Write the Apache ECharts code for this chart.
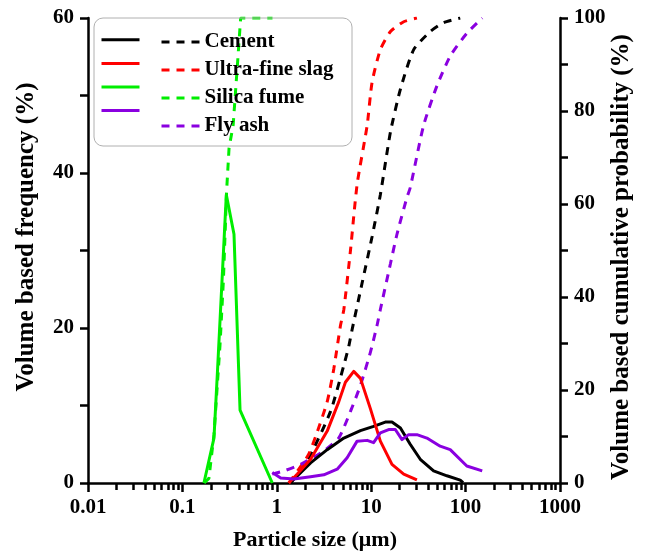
<!DOCTYPE html>
<html><head><meta charset="utf-8">
<script src="https://cdn.jsdelivr.net/npm/echarts@6/dist/echarts.min.js"></script>
<style>html,body{margin:0;padding:0;background:#fff}#c{width:648px;height:556px}</style>
</head><body><div id="c"></div>
<script>
// ---------- data ----------
const materials = ['Cement', 'Ultra-fine slag', 'Silica fume', 'Fly ash'];
const xTickLabels = ['0.01', '0.1', '1', '10', '100', '1000'];

const cementFreqSize = [1.40, 1.65, 2.28, 3.42, 5.13, 7.69, 10.6, 14.1, 16.6, 20.4, 25.9, 33.1, 45.8, 63.4, 87.7, 94];
const cementFreq     = [0.1, 0.93, 2.6, 4.3, 5.8, 6.75, 7.3, 7.86, 7.86, 7.1, 5.0, 3.06, 1.57, 0.93, 0.38, 0.05];
const cementCumSize  = [1.40, 2.10, 3.71, 5.13, 5.8, 6.28, 8.01, 10.2, 12.5, 16, 20.4, 28.2, 42.3, 58.5, 87.7];
const cementCum      = [0, 4.7, 15.4, 25.3, 29.5, 33, 43, 52.9, 62, 75.5, 84.7, 93.2, 97.1, 99, 100];

const slagFreqSize = [1.34, 1.65, 2.28, 3.42, 4.54, 5.33, 6.53, 7.69, 9.8, 12.5, 16.6, 22.1, 30.5];
const slagFreq     = [0, 1.15, 3.06, 6.7, 10.5, 13.0, 14.4, 13.5, 9.6, 5.4, 2.4, 1.15, 0.4];
const slagCumSize  = [1.34, 2.14, 2.62, 3.42, 4.02, 4.72, 5.13, 6.03, 7.09, 9.06, 10.2, 12.5, 16, 22.1, 30.5];
const slagCum      = [0, 5.9, 10.4, 17.5, 24.6, 33.8, 37.3, 50, 64.2, 76.9, 86.1, 93.2, 97.1, 99.2, 100];

const silicaFreqSize = [0.169, 0.216, 0.235, 0.292, 0.352, 0.408, 0.896];
const silicaFreq     = [0, 5.8, 14.3, 37.2, 32.1, 9.4, 0];
const silicaCumSize  = [0.17, 0.191, 0.216, 0.25, 0.272, 0.294, 0.312, 0.345, 0.38, 0.414, 0.9];
const silicaCum      = [0, 1, 10.4, 29.5, 43.7, 62.8, 72, 77, 89, 100, 100];

const flyFreqSize = [0.896, 1.10, 1.52, 2.28, 3.15, 4.36, 5.56, 7.09, 9.06, 10.6, 12.5, 15.3, 18, 21.2, 24.9, 30.5, 38.9, 53.8, 68.7, 103, 150];
const flyFreq     = [1.36, 0.64, 0.51, 0.8, 1.06, 1.78, 3.27, 5.4, 5.5, 5.2, 6.46, 6.9, 6.9, 5.6, 6.24, 6.24, 5.8, 4.75, 4.3, 2.2, 1.57];
const flyCumSize  = [0.896, 1.19, 1.79, 3.15, 4.54, 6.03, 7.69, 9.8, 11.5, 12.5, 16, 18.8, 23.9, 25.9, 35.9, 49.7, 68.7, 103, 150];
const flyCum      = [1.9, 2.6, 4, 6.9, 9.7, 15.4, 21, 28.1, 33.8, 37.3, 47.2, 53.6, 61.4, 63.5, 76.9, 85.4, 91.8, 96.7, 100];

// ---------- styling ----------
const FONT = "'Liberation Serif','Times New Roman',serif";
const colors = ['#000000', '#ff0000', '#00ee00', '#8a00e0'];
const DASH = [8, 7];
const cumSmooth = [0.2, 0.2, false, 0.2];
const minorTickValues = [];
[0.01, 0.1, 1, 10, 100].forEach(d => { for (let k = 2; k <= 9; k++) minorTickValues.push(+(d * k).toPrecision(3)); });

function pairs(xs, ys) { return xs.map((x, i) => [x, ys[i]]); }

const freqSets = [[cementFreqSize, cementFreq], [slagFreqSize, slagFreq], [silicaFreqSize, silicaFreq], [flyFreqSize, flyFreq]];
const cumSets  = [[cementCumSize, cementCum], [slagCumSize, slagCum], [silicaCumSize, silicaCum], [flyCumSize, flyCum]];

const series = [];
materials.forEach((m, i) => {
  series.push({
    name: m + ' (frequency)', type: 'line', xAxisIndex: 0, yAxisIndex: 0,
    data: pairs(freqSets[i][0], freqSets[i][1]), symbol: 'none', smooth: false,
    lineStyle: { color: colors[i], width: 3, join: 'round' }, itemStyle: { color: colors[i] }, z: 3
  });
  series.push({
    name: m, type: 'line', xAxisIndex: 0, yAxisIndex: 1,
    data: pairs(cumSets[i][0], cumSets[i][1]), symbol: 'none', smooth: cumSmooth[i],
    lineStyle: { color: colors[i], width: 3, type: DASH }, itemStyle: { color: colors[i] }, z: 2
  });
});

const labelStyle = { fontFamily: FONT, fontWeight: 'bold', fontSize: 21, color: '#000' };
const lineSt = { color: '#000', width: 2.5 };

const legendCommon = {
  orient: 'vertical', top: 31, padding: 0, itemWidth: 38, itemHeight: 22, itemGap: 6,
  selectedMode: false, itemStyle: { opacity: 0 },
  textStyle: { fontFamily: FONT, fontWeight: 'bold', fontSize: 21, color: '#000', lineHeight: 22 }
};

const option = {
  animation: false,
  backgroundColor: '#fff',
  grid: { left: 88, right: 88, top: 18, bottom: 67, containLabel: false },
  legend: [
    Object.assign({}, legendCommon, {
      left: 100, data: materials.map(m => m + ' (frequency)'), formatter: () => '',
      lineStyle: { width: 3, type: 'solid' }
    }),
    Object.assign({}, legendCommon, {
      left: 160, itemTextGap: 8, data: materials,
      lineStyle: { width: 3, type: DASH }
    })
  ],
  xAxis: [
    {
      type: 'log', logBase: 10, min: 0.01, max: 1000, position: 'bottom',
      name: 'Particle size (μm)', nameLocation: 'middle', nameGap: 46,
      nameTextStyle: { fontFamily: FONT, fontWeight: 'bold', fontSize: 22, color: '#000', padding: [0, 18, 0, 0] },
      axisLine: { show: true, onZero: false, lineStyle: lineSt },
      axisTick: { show: true, inside: false, length: 9, lineStyle: lineSt },
      axisLabel: Object.assign({ margin: 14, formatter: (v, idx) => xTickLabels[idx] }, labelStyle),
      splitLine: { show: false }
    },
    {
      type: 'log', logBase: 10, min: 0.01, max: 1000, position: 'bottom', gridIndex: 0,
      axisLine: { show: false },
      axisTick: { show: true, inside: false, length: 7, lineStyle: lineSt, customValues: minorTickValues },
      axisLabel: { show: false },
      splitLine: { show: false }
    }
  ],
  yAxis: [
    {
      type: 'value', min: 0, max: 60, interval: 10, position: 'left',
      axisLine: { show: true, onZero: false, lineStyle: lineSt },
      axisTick: { show: true, inside: false, length: 8, lineStyle: lineSt },
      axisLabel: Object.assign({ margin: 14, formatter: v => (v % 20 === 0 ? String(v) : '') }, labelStyle),
      splitLine: { show: false }
    },
    {
      type: 'value', min: 0, max: 100, interval: 10, position: 'right',
      axisLine: { show: true, onZero: false, lineStyle: lineSt },
      axisTick: { show: true, inside: false, length: 8, lineStyle: lineSt },
      axisLabel: Object.assign({ margin: 14, formatter: v => (v % 20 === 0 ? String(v) : '') }, labelStyle),
      splitLine: { show: false }
    }
  ],
  graphic: [
    { type: 'rect', shape: { x: 94, y: 18, width: 258, height: 128, r: 9 },
      style: { fill: 'none', stroke: '#b0b0b0', lineWidth: 1 }, z: 10 },
    { type: 'text', x: 27, y: 237, rotation: Math.PI / 2,
      style: { text: 'Volume based frequency (%)', font: "bold 25px " + FONT, fill: '#000', align: 'center', verticalAlign: 'middle' } },
    { type: 'text', x: 622, y: 257, rotation: Math.PI / 2,
      style: { text: 'Volume based cumulative probability (%)', font: "bold 25px " + FONT, fill: '#000', align: 'center', verticalAlign: 'middle' } }
  ],
  series: series
};

const chart = echarts.init(document.getElementById('c'), null, { renderer: 'canvas' });
chart.setOption(option);
</script>
</body></html>
